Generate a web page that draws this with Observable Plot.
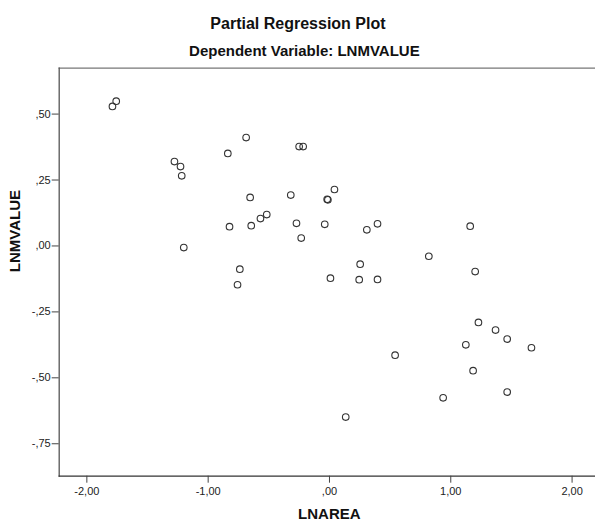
<!DOCTYPE html>
<html>
<head>
<meta charset="utf-8">
<script src="https://cdn.jsdelivr.net/npm/d3@7"></script>
<script src="https://cdn.jsdelivr.net/npm/@observablehq/plot@0.6"></script>
<style>
  html, body { margin: 0; padding: 0; background: #fff; }
  #chart { width: 595px; height: 522px; }
</style>
</head>
<body>
<div id="chart"></div>
<script>
// Partial regression residuals (LNAREA vs LNMVALUE)
const lnarea = [
  -1.789, -1.758, -1.278, -1.228, -1.218, -1.201, -0.838, -0.687, -0.250, -0.217,
  -0.654, -0.319, 0.041, -0.019, -0.013, -0.517, -0.569, -0.824, -0.645, -0.272,
  -0.039, 0.308, -0.233, -0.739, -0.758, 0.008, 0.253, 0.245, 0.396, 0.396,
  1.160, 0.819, 1.201, 1.228, 1.369, 1.465, 1.665, 1.124, 0.541, 1.184,
  1.465, 0.937, 0.134
];
const lnmvalue = [
  0.529, 0.549, 0.320, 0.301, 0.266, -0.006, 0.351, 0.411, 0.377, 0.377,
  0.184, 0.193, 0.214, 0.177, 0.175, 0.119, 0.104, 0.073, 0.077, 0.086,
  0.082, 0.061, 0.030, -0.088, -0.147, -0.122, -0.069, -0.128, 0.084, -0.127,
  0.075, -0.039, -0.097, -0.290, -0.319, -0.353, -0.386, -0.375, -0.414, -0.473,
  -0.554, -0.576, -0.649
];

const xTicks = [-2, -1, 0, 1, 2];
const xTickLabels = ["-2,00", "-1,00", ",00", "1,00", "2,00"];
const yTicks = [0.5, 0.25, 0, -0.25, -0.5, -0.75];
const yTickLabels = [",50", ",25", ",00", "-,25", "-,50", "-,75"];
const xDomain = [-2.228, 2.193];
const yDomain = [-0.873, 0.674];

const titleText = ["Partial Regression Plot"];
const subtitleText = ["Dependent Variable: LNMVALUE"];
const xLabel = ["LNAREA"];
const yLabel = ["LNMVALUE"];

const data = lnarea.map((x, i) => ({x, y: lnmvalue[i]}));
const FONT = "'Liberation Sans', Arial, sans-serif";

const chart = Plot.plot({
  width: 595,
  height: 522,
  marginLeft: 58.7,
  marginRight: 0,
  marginTop: 67.7,
  marginBottom: 46.3,
  style: {fontFamily: FONT, fontSize: "11px", background: "#fff", color: "#222"},
  x: {domain: xDomain},
  y: {domain: yDomain},
  marks: [
    Plot.frame({anchor: "top", stroke: "#777", strokeWidth: 1.3}),
    Plot.frame({anchor: "left", stroke: "#555", strokeWidth: 1.3}),
    Plot.frame({anchor: "bottom", stroke: "#333", strokeWidth: 1.3}),
    Plot.axisX({
      ticks: xTicks, tickSize: 7, tickPadding: 4, stroke: "#444",
      tickFormat: d => xTickLabels[xTicks.indexOf(d)], label: null,
      fill: "#222"
    }),
    Plot.axisY({
      ticks: yTicks, tickSize: 7, tickPadding: 1.5, stroke: "#444",
      tickFormat: d => yTickLabels[yTicks.indexOf(d)], label: null,
      fill: "#222"
    }),
    Plot.dot(data, {x: "x", y: "y", r: 3.3, stroke: "#333", strokeWidth: 1.1, fill: "none"}),
    Plot.text(titleText, {frameAnchor: "top", dx: -29.4, dy: -51, fontSize: 16, fontWeight: "bold", fill: "#111"}),
    Plot.text(subtitleText, {frameAnchor: "top", dx: -23, dy: -23, fontSize: 15, fontWeight: "bold", fill: "#111"}),
    Plot.text(xLabel, {frameAnchor: "bottom", dx: 2, dy: 43, fontSize: 15, fontWeight: "bold", fill: "#111"}),
    Plot.text(yLabel, {frameAnchor: "left", dx: -43.7, rotate: -90, fontSize: 15, fontWeight: "bold", fill: "#111"})
  ]
});
document.getElementById("chart").appendChild(chart);
</script>
</body>
</html>
